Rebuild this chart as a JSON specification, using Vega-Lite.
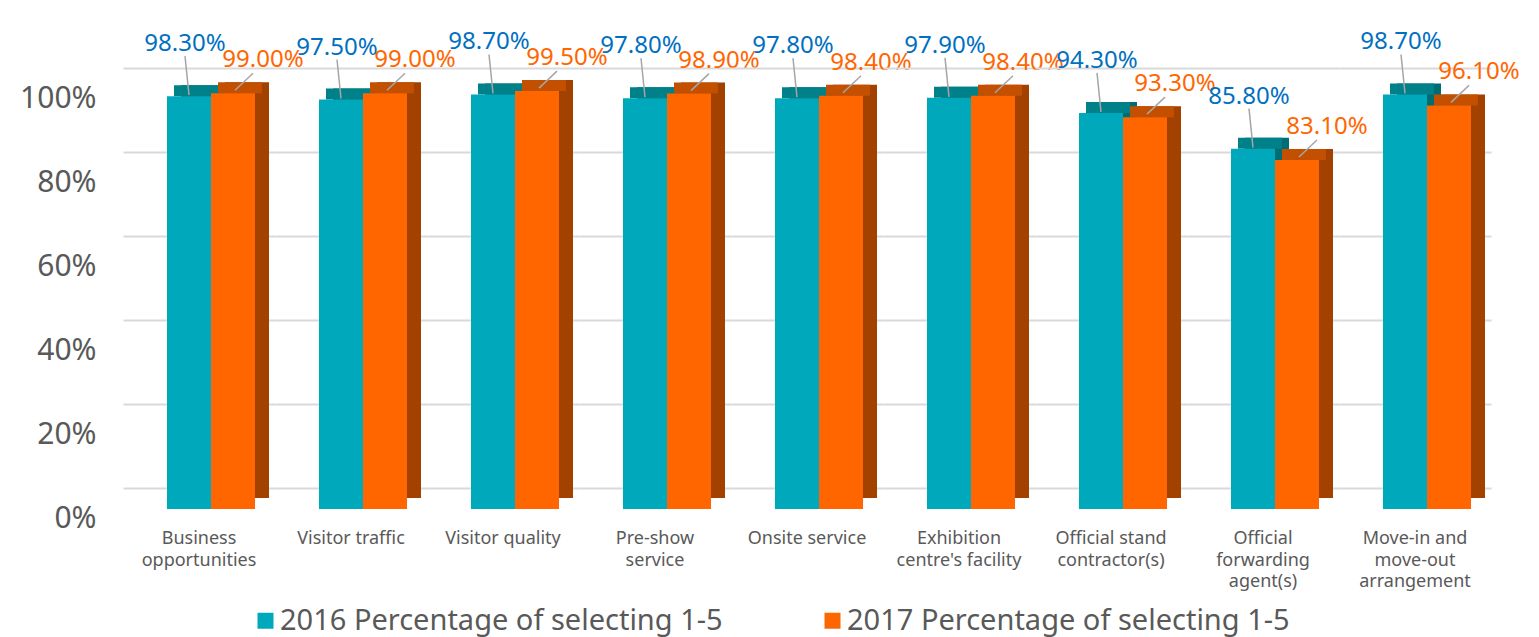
{
  "$schema": "https://vega.github.io/schema/vega-lite/v6.json",
  "background": "white",
  "padding": {"left": 19, "top": 30, "right": 0, "bottom": 8},
  "bounds": "flush",
  "config": {"font": "Noto Sans", "view": {"stroke": null}},
  "data": {"values": [
    {"category": "Business opportunities", "series": "2016 Percentage of selecting 1-5", "pct": 0.983},
    {"category": "Business opportunities", "series": "2017 Percentage of selecting 1-5", "pct": 0.990},
    {"category": "Visitor traffic", "series": "2016 Percentage of selecting 1-5", "pct": 0.975},
    {"category": "Visitor traffic", "series": "2017 Percentage of selecting 1-5", "pct": 0.990},
    {"category": "Visitor quality", "series": "2016 Percentage of selecting 1-5", "pct": 0.987},
    {"category": "Visitor quality", "series": "2017 Percentage of selecting 1-5", "pct": 0.995},
    {"category": "Pre-show service", "series": "2016 Percentage of selecting 1-5", "pct": 0.978},
    {"category": "Pre-show service", "series": "2017 Percentage of selecting 1-5", "pct": 0.989},
    {"category": "Onsite service", "series": "2016 Percentage of selecting 1-5", "pct": 0.978},
    {"category": "Onsite service", "series": "2017 Percentage of selecting 1-5", "pct": 0.984},
    {"category": "Exhibition centre's facility", "series": "2016 Percentage of selecting 1-5", "pct": 0.979},
    {"category": "Exhibition centre's facility", "series": "2017 Percentage of selecting 1-5", "pct": 0.984},
    {"category": "Official stand contractor(s)", "series": "2016 Percentage of selecting 1-5", "pct": 0.943},
    {"category": "Official stand contractor(s)", "series": "2017 Percentage of selecting 1-5", "pct": 0.933},
    {"category": "Official forwarding agent(s)", "series": "2016 Percentage of selecting 1-5", "pct": 0.858},
    {"category": "Official forwarding agent(s)", "series": "2017 Percentage of selecting 1-5", "pct": 0.831},
    {"category": "Move-in and move-out arrangement", "series": "2016 Percentage of selecting 1-5", "pct": 0.987},
    {"category": "Move-in and move-out arrangement", "series": "2017 Percentage of selecting 1-5", "pct": 0.961}
  ]},
  "facet": {
    "column": {
      "field": "category",
      "type": "nominal",
      "title": null,
      "sort": ["Business opportunities", "Visitor traffic", "Visitor quality", "Pre-show service", "Onsite service", "Exhibition centre's facility", "Official stand contractor(s)", "Official forwarding agent(s)", "Move-in and move-out arrangement"],
      "header": {
        "labelOrient": "bottom",
        "labelFontSize": 18,
        "labelColor": "#595959",
        "labelFont": "Noto Sans",
        "labelPadding": 21,
        "labelLineHeight": 21.5,
        "labelBaseline": "top",
        "labelExpr": "datum.value == 'Business opportunities' ? ['Business', 'opportunities'] : datum.value == 'Pre-show service' ? ['Pre-show', 'service'] : indexof(datum.value, 'Exhibition') == 0 ? ['Exhibition', \"centre's facility\"] : datum.value == 'Official stand contractor(s)' ? ['Official stand', 'contractor(s)'] : datum.value == 'Official forwarding agent(s)' ? ['Official', 'forwarding', 'agent(s)'] : datum.value == 'Move-in and move-out arrangement' ? ['Move-in and', 'move-out', 'arrangement'] : datum.value"
      }
    }
  },
  "spacing": 0,
  "spec": {
    "width": 152,
    "height": 420,
    "encoding": {
      "x": {"field": "series", "type": "nominal", "scale": {"paddingInner": 0, "paddingOuter": 0.7273, "align": 0.6875}, "axis": null},
      "y": {
        "field": "pct", "type": "quantitative", "stack": null,
        "scale": {"domain": [0, 1]},
        "axis": {
          "values": [0, 0.2, 0.4, 0.6, 0.8, 1],
          "format": ".0%",
          "title": null,
          "domain": false,
          "ticks": false,
          "labelFontSize": 30,
          "labelColor": "#595959",
          "labelFont": "Noto Sans",
          "labelPadding": 27,
          "labelFlush": false,
          "labelBaseline": "middle",
          "gridColor": "#D9D9D9",
          "gridWidth": 2,
          "tickOffset": -21,
          "labelOffset": 30
        }
      }
    },
    "layer": [
      {
        "mark": {"type": "bar", "xOffset": 14, "yOffset": -11, "y2Offset": -11},
        "encoding": {
          "y2": {"datum": 0},
          "color": {"condition": {"test": "indexof(datum.series, '2016') == 0", "value": "#006D74"}, "value": "#A34100"}
        }
      },
      {
        "mark": {"type": "bar", "xOffset": 7, "yOffset": -11, "y2Offset": 0},
        "encoding": {
          "y2": {"field": "pct"},
          "color": {"condition": {"test": "indexof(datum.series, '2016') == 0", "value": "#008088"}, "value": "#C25000"}
        }
      },
      {
        "mark": {"type": "bar"},
        "encoding": {
          "color": {
            "field": "series", "type": "nominal",
            "scale": {"domain": ["2016 Percentage of selecting 1-5", "2017 Percentage of selecting 1-5"], "range": ["#00A8BC", "#FF6600"]},
            "legend": {
              "orient": "none",
              "legendX": 128,
              "legendY": 517,
              "direction": "horizontal",
              "title": null,
              "symbolType": "square",
              "symbolSize": 256,
              "labelFontSize": 29,
              "labelFont": "Noto Sans",
              "labelColor": "#595959",
              "labelLimit": 600,
              "columnPadding": 95,
              "labelOffset": 0
            }
          }
        }
      },
      {
        "transform": [{"filter": "indexof(datum.series, '2016') == 0"}],
        "mark": {"type": "rule", "color": "#A6A6A6", "strokeWidth": 1.5, "xOffset": -4, "x2Offset": 0, "yOffset": -40, "y2Offset": -1},
        "encoding": {"x2": {"field": "series"}, "y2": {"field": "pct"}}
      },
      {
        "transform": [{"filter": "indexof(datum.series, '2017') == 0"}],
        "mark": {"type": "rule", "color": "#A6A6A6", "strokeWidth": 1.5, "xOffset": 20, "x2Offset": 2, "yOffset": -20, "y2Offset": -3},
        "encoding": {"x2": {"field": "series"}, "y2": {"field": "pct"}}
      },
      {
        "transform": [{"filter": "indexof(datum.series, '2016') == 0"}],
        "mark": {"type": "text", "dx": -4, "dy": -52, "fontSize": 24, "color": "#0070C0", "font": "Noto Sans"},
        "encoding": {"text": {"field": "pct", "type": "quantitative", "format": ".2%"}}
      },
      {
        "transform": [{"filter": "indexof(datum.series, '2017') == 0"}],
        "mark": {"type": "text", "dx": 30, "dy": -33, "fontSize": 24, "color": "#FF6600", "font": "Noto Sans"},
        "encoding": {"text": {"field": "pct", "type": "quantitative", "format": ".2%"}}
      }
    ]
  }
}
